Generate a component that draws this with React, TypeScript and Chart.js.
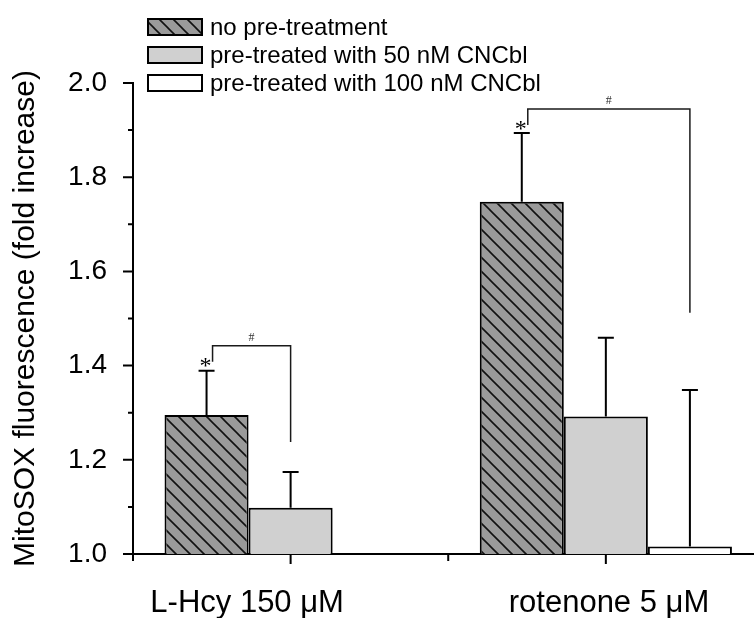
import React, { useEffect, useRef } from 'react';
import { Chart, registerables } from 'chart.js';

Chart.register(...registerables);

// ---- data ----
const categories = ['L-Hcy 150 μM', 'rotenone 5 μM'];
const categoryPositions = [1, 2];
const categoryLabelPositions = [0.862, 2.01];
const seriesNames = ['no pre-treatment', 'pre-treated with 50 nM CNCbl', 'pre-treated with 100 nM CNCbl'];
const noPreTreatment = [1.295, 1.748];
const cncbl50 = [1.098, 1.292];
const cncbl100: (number | null)[] = [null, 1.016];
const noPreTreatmentErr = [0.094, 0.146];
const cncbl50Err = [0.076, 0.167];
const cncbl100Err: (number | null)[] = [null, 0.332];
const yMajorTicks = [1.0, 1.2, 1.4, 1.6, 1.8, 2.0];
const yMinorTicks = [1.1, 1.3, 1.5, 1.7, 1.9];
const xMajorTicks = [1, 2];
const xMinorTicks = [0.5, 1.5];
// significance brackets
const sigCategory = [0, 1];
const sigTargetSeries = [1, 2];
const sigTop = [1.442, 1.945];
const sigLeftBottom = [1.408, 1.911];
const sigRightBottom = [1.238, 1.512];

const FONT = '"Liberation Sans", Arial, Helvetica, sans-serif';

function makeHatch(ctx: CanvasRenderingContext2D) {
  const size = 14;
  const c = document.createElement('canvas');
  c.width = size;
  c.height = size;
  const g = c.getContext('2d')!;
  g.fillStyle = '#9a9a9a';
  g.fillRect(0, 0, size, size);
  g.strokeStyle = '#111';
  g.lineWidth = 1.6;
  g.beginPath();
  g.moveTo(-2, -2);
  g.lineTo(size + 2, size + 2);
  g.moveTo(-2, size - 2);
  g.lineTo(2, size + 2);
  g.moveTo(size - 2, -2);
  g.lineTo(size + 2, 2);
  g.stroke();
  return ctx.createPattern(c, 'repeat')!;
}

export default function App() {
  const ref = useRef<HTMLCanvasElement>(null);

  useEffect(() => {
    const canvas = ref.current!;
    const ctx = canvas.getContext('2d')!;
    const hatch = makeHatch(ctx);
    const fills: any[] = [hatch, '#d0d0d0', '#ffffff'];
    const seriesValues = [noPreTreatment, cncbl50, cncbl100];
    const seriesErrors = [noPreTreatmentErr, cncbl50Err, cncbl100Err];

    const overlay = {
      id: 'overlay',
      afterDatasetsDraw(chart: any) {
        const { ctx: c, chartArea, scales } = chart;
        const xs = scales.x;
        const ys = scales.y;
        c.save();
        c.strokeStyle = '#000';
        c.lineWidth = 2;
        // error bars (upper only)
        seriesErrors.forEach((errs, s) => {
          const meta = chart.getDatasetMeta(s);
          errs.forEach((e, i) => {
            const v = seriesValues[s][i];
            if (v == null || e == null) return;
            const bar = meta.data[i];
            const yTop = ys.getPixelForValue(v + e);
            c.beginPath();
            c.moveTo(bar.x, ys.getPixelForValue(v));
            c.lineTo(bar.x, yTop);
            c.moveTo(bar.x - 8, yTop);
            c.lineTo(bar.x + 8, yTop);
            c.stroke();
          });
        });
        // significance brackets
        sigCategory.forEach((cat, k) => {
          const xl = chart.getDatasetMeta(0).data[cat].x + 6;
          const xr = chart.getDatasetMeta(sigTargetSeries[k]).data[cat].x;
          const yt = ys.getPixelForValue(sigTop[k]);
          const yl = ys.getPixelForValue(sigLeftBottom[k]);
          const yr = ys.getPixelForValue(sigRightBottom[k]);
          c.lineWidth = 1.5;
          c.strokeStyle = '#1a1a1a';
          c.beginPath();
          c.moveTo(xl, yl);
          c.lineTo(xl, yt);
          c.lineTo(xr, yt);
          c.lineTo(xr, yr);
          c.stroke();
          c.fillStyle = '#000';
          c.textAlign = 'center';
          c.textBaseline = 'alphabetic';
          c.font = '24px "Liberation Serif", "Times New Roman", serif';
          c.fillText('*', xl - 7, yl + 11);
          c.font = '12px "Liberation Serif", "Times New Roman", serif';
          c.textBaseline = 'bottom';
          c.fillStyle = '#333';
          c.fillText('#', (xl + xr) / 2, yt - 2);
        });
        // tick marks
        c.strokeStyle = '#000';
        c.lineWidth = 2;
        c.beginPath();
        yMajorTicks.forEach((v) => {
          const p = ys.getPixelForValue(v);
          c.moveTo(chartArea.left - 10, p);
          c.lineTo(chartArea.left, p);
        });
        yMinorTicks.forEach((v) => {
          const p = ys.getPixelForValue(v);
          c.moveTo(chartArea.left - 5, p);
          c.lineTo(chartArea.left, p);
        });
        xMajorTicks.forEach((v) => {
          const p = xs.getPixelForValue(v);
          c.moveTo(p, chartArea.bottom);
          c.lineTo(p, chartArea.bottom + 10);
        });
        xMinorTicks.forEach((v) => {
          const p = xs.getPixelForValue(v);
          c.moveTo(p, chartArea.bottom);
          c.lineTo(p, chartArea.bottom + 7);
        });
        c.stroke();
        c.restore();
      },
      afterDraw(chart: any) {
        const c = chart.ctx;
        c.save();
        const boxX = 147;
        const boxW = 56;
        const boxH = 18;
        const rowTops = [18, 46, 74];
        chart.data.datasets.forEach((ds: any, i: number) => {
          const top = rowTops[i];
          c.fillStyle = ds.backgroundColor;
          c.fillRect(boxX, top, boxW, boxH);
          c.strokeStyle = '#000';
          c.lineWidth = 2;
          c.strokeRect(boxX + 1, top + 1, boxW - 2, boxH - 2);
          c.fillStyle = '#000';
          c.font = `24px ${FONT}`;
          c.textAlign = 'left';
          c.textBaseline = 'middle';
          c.fillText(ds.label, boxX + boxW + 7, top + boxH / 2 + 1);
        });
        c.restore();
      },
    };

    Chart.defaults.color = '#000';
    Chart.defaults.font.family = FONT;

    const chart = new Chart(ctx, {
      type: 'bar',
      data: {
        datasets: seriesNames.map((name, s) => ({
          label: name,
          data: categoryPositions.map((x, i) => ({ x, y: seriesValues[s][i] as any })),
          backgroundColor: fills[s],
          borderColor: '#000',
          borderWidth: 2,
          borderSkipped: false,
          categoryPercentage: 0.8,
          barPercentage: 1.0,
        })),
      } as any,
      options: {
        animation: false,
        responsive: false,
        devicePixelRatio: 1,
        layout: { padding: { top: 83, right: 0, left: 0, bottom: 0 } },
        plugins: {
          legend: { display: false },
          tooltip: { enabled: false },
        },
        scales: {
          x: {
            type: 'linear',
            min: 0.5,
            max: 2.47,
            offset: false,
            grid: { display: false, offset: false },
            border: { display: true, color: '#000', width: 2 },
            afterBuildTicks: (scale: any) => {
              scale.ticks = categoryLabelPositions.map((v) => ({ value: v }));
            },
            afterFit: (scale: any) => {
              scale.height = 64;
            },
            ticks: {
              autoSkip: false,
              maxRotation: 0,
              padding: 23,
              font: { size: 31 },
              callback: (_v: any, i: number) => categories[i],
            },
          },
          y: {
            min: 1,
            max: 2,
            grid: { display: false },
            border: { display: true, color: '#000', width: 2 },
            afterFit: (scale: any) => {
              scale.width = 133;
            },
            ticks: {
              stepSize: 0.2,
              padding: 18,
              font: { size: 28 },
              callback: (v: any) => Number(v).toFixed(1),
            },
            title: {
              display: true,
              text: 'MitoSOX fluorescence (fold increase)',
              font: { size: 30 },
              padding: { top: 8, bottom: 0 },
            },
          },
        },
      } as any,
      plugins: [overlay],
    });
    return () => chart.destroy();
  }, []);

  return (
    <div style={{ position: 'absolute', left: 0, top: 0, width: 754, height: 618, background: '#fff' }}>
      <canvas ref={ref} width={754} height={618} style={{ width: 754, height: 618, display: 'block' }} />
    </div>
  );
}
